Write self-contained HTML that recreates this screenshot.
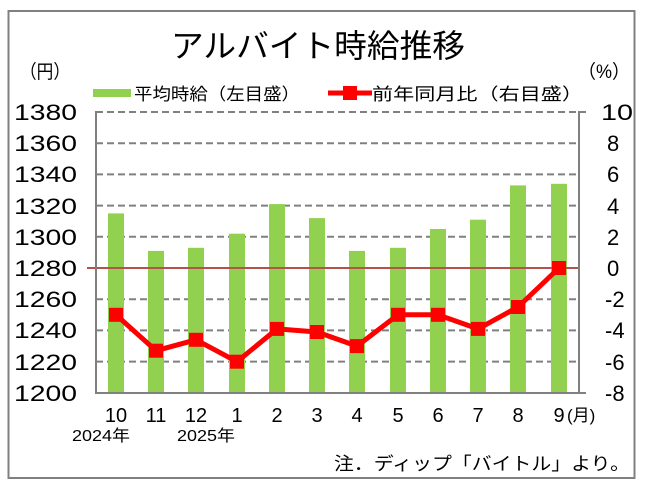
<!DOCTYPE html>
<html><head><meta charset="utf-8"><style>
html,body{margin:0;padding:0;background:#fff;}
svg{display:block;font-family:"Liberation Sans","Noto Sans CJK JP",sans-serif;}
</style></head><body>
<svg width="649" height="493" viewBox="0 0 649 493" xmlns="http://www.w3.org/2000/svg">
<rect x="0" y="0" width="649" height="493" fill="#fff"/>
<rect x="8.5" y="11" width="626" height="467" fill="none" stroke="#808080" stroke-width="2"/>
<text x="318" y="57" font-size="32" text-anchor="middle" textLength="294" lengthAdjust="spacingAndGlyphs">アルバイト時給推移</text>
<text x="20" y="78" font-size="19" textLength="50" lengthAdjust="spacingAndGlyphs">（円）</text>
<text x="578" y="78" font-size="19" textLength="52" lengthAdjust="spacingAndGlyphs">（%）</text>
<rect x="93" y="89" width="38" height="8" fill="#92d050"/>
<text x="134" y="100" font-size="17" textLength="166" lengthAdjust="spacingAndGlyphs">平均時給（左目盛）</text>
<line x1="328" y1="93" x2="372" y2="93" stroke="#ff0000" stroke-width="5"/>
<rect x="343" y="86" width="14" height="14" fill="#ff0000"/>
<text x="372" y="100" font-size="17" textLength="211" lengthAdjust="spacingAndGlyphs">前年同月比（右目盛）</text>
<g stroke="#808080" stroke-width="2" stroke-dasharray="7,4">
<line x1="96" y1="112" x2="579" y2="112"/><line x1="96" y1="143.2" x2="579" y2="143.2"/>
<line x1="96" y1="174.4" x2="579" y2="174.4"/><line x1="96" y1="205.6" x2="579" y2="205.6"/>
<line x1="96" y1="236.8" x2="579" y2="236.8"/>
<line x1="96" y1="299.2" x2="579" y2="299.2"/><line x1="96" y1="330.4" x2="579" y2="330.4"/>
<line x1="96" y1="361.6" x2="579" y2="361.6"/>
</g>
<g fill="#92d050">
<rect x="108" y="369.6" width="16" height="23.4" transform="translate(0,0)"/>
</g>
<g fill="#92d050" id="bars"></g>
<g fill="#92d050">
<rect x="108" y="213.4" width="16" height="179.6"/>
<rect x="148" y="250.9" width="16" height="142.1"/>
<rect x="188" y="247.8" width="16" height="145.2"/>
<rect x="229" y="233.7" width="16" height="159.3"/>
<rect x="269" y="204.1" width="16" height="188.9"/>
<rect x="309" y="218.1" width="16" height="174.9"/>
<rect x="349" y="250.9" width="16" height="142.1"/>
<rect x="390" y="247.8" width="16" height="145.2"/>
<rect x="430" y="229.0" width="16" height="164"/>
<rect x="470" y="219.7" width="16" height="173.3"/>
<rect x="510" y="185.4" width="16" height="207.6"/>
<rect x="551" y="183.8" width="16" height="209.2"/>
</g>
<line x1="87" y1="268" x2="579" y2="268" stroke="#b5524a" stroke-width="2"/>
<line x1="96" y1="111" x2="96" y2="394" stroke="#808080" stroke-width="2"/>
<line x1="579" y1="111" x2="579" y2="394" stroke="#808080" stroke-width="2"/>
<line x1="95" y1="393" x2="586" y2="393" stroke="#808080" stroke-width="2"/>
<g stroke="#808080" stroke-width="2"><line x1="579" y1="112" x2="586" y2="112"/></g>
<polyline fill="none" stroke="#ff0000" stroke-width="5" stroke-linejoin="round" points="116,314.8 156,350.7 196,339.8 237,361.7 277,328.9 317,332 357,346.1 398,314.8 438,314.8 478,328.9 518,307 559,268"/>
<g fill="#ff0000">
<rect x="109" y="307.8" width="14" height="14"/><rect x="149" y="343.7" width="14" height="14"/>
<rect x="189" y="332.8" width="14" height="14"/><rect x="230" y="354.7" width="14" height="14"/>
<rect x="270" y="321.9" width="14" height="14"/><rect x="310" y="325" width="14" height="14"/>
<rect x="350" y="339.1" width="14" height="14"/><rect x="391" y="307.8" width="14" height="14"/>
<rect x="431" y="307.8" width="14" height="14"/><rect x="471" y="321.9" width="14" height="14"/>
<rect x="511" y="300" width="14" height="14"/><rect x="552" y="261" width="14" height="14"/>
</g>
<g font-size="22" text-anchor="end">
<text x="77" y="120" textLength="63" lengthAdjust="spacingAndGlyphs">1380</text>
<text x="77" y="151" textLength="63" lengthAdjust="spacingAndGlyphs">1360</text>
<text x="77" y="182" textLength="63" lengthAdjust="spacingAndGlyphs">1340</text>
<text x="77" y="214" textLength="63" lengthAdjust="spacingAndGlyphs">1320</text>
<text x="77" y="245" textLength="63" lengthAdjust="spacingAndGlyphs">1300</text>
<text x="77" y="276" textLength="63" lengthAdjust="spacingAndGlyphs">1280</text>
<text x="77" y="307" textLength="63" lengthAdjust="spacingAndGlyphs">1260</text>
<text x="77" y="338" textLength="63" lengthAdjust="spacingAndGlyphs">1240</text>
<text x="77" y="370" textLength="63" lengthAdjust="spacingAndGlyphs">1220</text>
<text x="77" y="401" textLength="63" lengthAdjust="spacingAndGlyphs">1200</text>
</g>
<g font-size="22">
<text x="601" y="120" textLength="32" lengthAdjust="spacingAndGlyphs">10</text>
<text x="607" y="151">8</text><text x="607" y="182">6</text><text x="607" y="214">4</text>
<text x="607" y="245">2</text><text x="607" y="276">0</text>
<text x="605" y="307">-2</text><text x="605" y="338">-4</text><text x="605" y="370">-6</text><text x="605" y="401">-8</text>
</g>
<g font-size="20" text-anchor="middle">
<text x="116" y="422">10</text><text x="156" y="422">11</text><text x="196" y="422">12</text>
<text x="237" y="422">1</text><text x="277" y="422">2</text><text x="317" y="422">3</text>
<text x="357" y="422">4</text><text x="398" y="422">5</text><text x="438" y="422">6</text>
<text x="478" y="422">7</text><text x="518" y="422">8</text><text x="559" y="422">9</text>
</g>
<text x="567" y="421" font-size="17">(月)</text>
<text x="72" y="441" font-size="16" textLength="58" lengthAdjust="spacingAndGlyphs">2024年</text>
<text x="177" y="441" font-size="16" textLength="58" lengthAdjust="spacingAndGlyphs">2025年</text>
<text x="630" y="470" font-size="18" text-anchor="end" textLength="296" lengthAdjust="spacingAndGlyphs">注．ディップ「バイトル」より。</text>
</svg>
</body></html>
